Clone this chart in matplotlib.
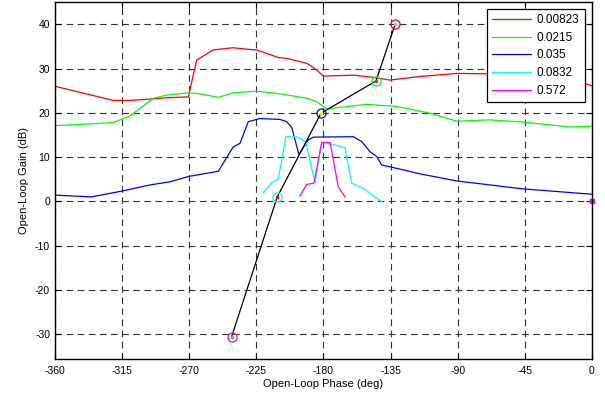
import numpy as np
import matplotlib
matplotlib.use('Agg')
from matplotlib import pyplot as plt

plt.rcParams['font.family'] = ['Liberation Sans', 'DejaVu Sans']
plt.rcParams['axes.unicode_minus'] = False

# open-loop responses, one curve per gain value (phase in deg, gain in dB)
labels = ['0.00823', '0.0215', '0.035', '0.0832', '0.572']

red_phase = [-360, -321, -310, -296, -285, -270.6, -265, -254, -240.7, -229, -224.8,
             -210.3, -204.7, -191.3, -184.6, -180.1, -160, -146.6, -135.4, -115.3,
             -90.7, -68.4, -45, -20, -3.6, 0]
red_gain = [26.0, 22.8, 22.8, 23.1, 23.4, 23.6, 31.9, 34.2, 34.7, 34.3, 34.2,
            32.5, 32.3, 31.2, 29.7, 28.3, 28.5, 28.0, 27.4, 28.2,
            28.9, 28.8, 28.4, 27.8, 26.5, 26.1]

green_phase = [-360, -336.5, -321, -309.7, -303, -294, -285, -270.6, -265, -250.5,
               -240.5, -224.8, -209.2, -191.3, -184.6, -177.9, -169, -151, -133.2,
               -128.7, -108.6, -90.7, -68.4, -46.1, -14.8, 0]
green_gain = [17.1, 17.5, 17.8, 19.3, 21.0, 23.3, 24.0, 24.5, 24.4, 23.5,
              24.5, 24.9, 24.3, 23.3, 22.5, 20.9, 21.2, 21.9, 21.5,
              21.3, 19.9, 18.1, 18.4, 17.9, 16.8, 17.0]

blue_phase = [-360, -335.5, -315.3, -296.3, -283, -270.6, -250.5, -240.5, -236,
              -230.4, -222.6, -209.2, -204.7, -201.3, -196.5, -190.2, -186.8, -160,
              -154.4, -148.8, -144.3, -141, -135.4, -115.3, -90.7, -46.1, 0]
blue_gain = [1.4, 1.0, 2.3, 3.7, 4.4, 5.6, 6.8, 12.3, 13.1,
             18.0, 18.7, 18.5, 18.0, 16.7, 10.6, 13.9, 14.5, 14.6,
             13.5, 11.2, 10.1, 8.2, 7.8, 6.2, 4.6, 2.8, 1.6]

cyan_phase = [-220.4, -214.7, -210.3, -205.3, -198, -192, -185.7, -181.2, -175.6,
              -170.1, -165.6, -161.1, -153.3, -144.3, -141]
cyan_gain = [1.9, 4.2, 5.0, 14.6, 14.6, 13.5, 4.2, 13.3, 13.0,
             12.5, 12.1, 4.1, 2.9, 0.7, -0.1]

mag_phase = [-195.8, -191.3, -186.4, -181.2, -175.6, -170.1, -165.6]
mag_gain = [1.2, 3.8, 4.1, 13.3, 13.3, 3.3, 1.0]

# closed-loop operating points joined by the black line
pt_phase = [-241.6, -211, -181.7, -144.8, -132]
pt_gain = [-30.6, 1.0, 19.9, 27.2, 40.0]

RED, GREEN, BLUE, CYAN, MAG, YEL = '#ff0000', '#00ff00', '#0000ff', '#00ffff', '#ff00ff', '#ffff00'
ring_colors = [MAG, CYAN, BLUE, GREEN, RED]
dot_colors = [GREEN, RED, YEL, MAG, CYAN]

xticks = [-360, -315, -270, -225, -180, -135, -90, -45, 0]
yticks = [-30, -20, -10, 0, 10, 20, 30, 40]

fig = plt.figure(figsize=(6.05, 3.99), dpi=100)
ax = fig.add_axes([0.0909, 0.0995, 0.8876, 0.8962])

curves = [(red_phase, red_gain, RED), (green_phase, green_gain, GREEN),
          (blue_phase, blue_gain, BLUE), (cyan_phase, cyan_gain, CYAN),
          (mag_phase, mag_gain, MAG)]
for (ph, g, c), lab in zip(curves, labels):
    ax.plot(ph, g, '-', color=c, lw=0.9, label=lab)

ax.plot(pt_phase, pt_gain, 'k-', lw=0.9)
for ph, g, rc, dc in zip(pt_phase, pt_gain, ring_colors, dot_colors):
    ax.plot(ph, g, 'o', mfc='none', mec=rc, ms=6.5, mew=0.9)
    ax.plot(ph, g, '.', color=dc, ms=3)
ax.plot(0, 0, 's', color=MAG, ms=3.5, clip_on=False)

ax.set_xlim(-360, 0)
ax.set_ylim(-35.7, 45.1)
ax.set_xticks(xticks)
ax.set_yticks(yticks)
ax.tick_params(direction='in', top=True, right=True, labelsize=7.5, length=4, width=0.8)
ax.tick_params(axis='x', pad=5)
ax.grid(True, color='#333333', linestyle=(0, (6, 4)), lw=0.8)
for s in ax.spines.values():
    s.set_linewidth(1.0)
ax.set_xlabel('Open-Loop Phase (deg)', fontsize=8, labelpad=2)
ax.set_ylabel('Open-Loop Gain (dB)', fontsize=8, labelpad=4)

leg = ax.legend(loc='upper right', fontsize=8.5, handlelength=3.3, fancybox=False,
                framealpha=1, edgecolor='k', borderaxespad=0.6, labelspacing=0.48,
                handletextpad=0.5, borderpad=0.45)
leg.get_frame().set_linewidth(0.9)

fig.savefig('out.png', dpi=100)
